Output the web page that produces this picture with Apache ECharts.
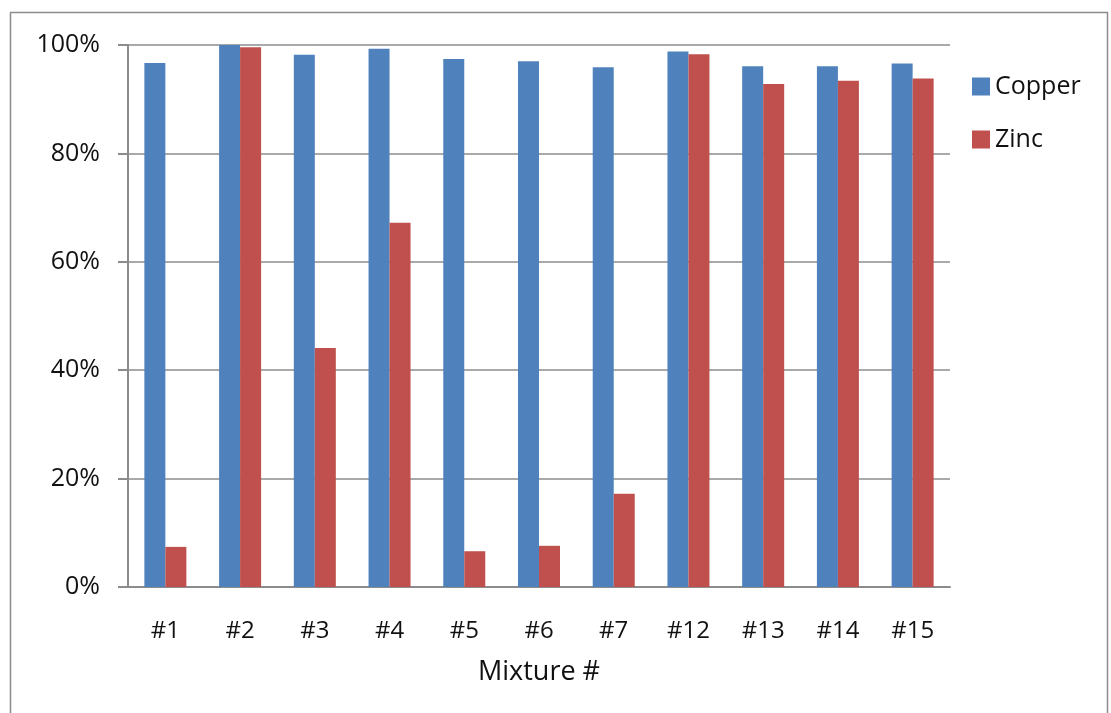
<!DOCTYPE html>
<html>
<head>
<meta charset="utf-8">
<script src="https://cdn.jsdelivr.net/npm/echarts@6/dist/echarts.min.js"></script>
<style>
  html, body { margin: 0; padding: 0; background: #fff; }
  #chart { width: 1111px; height: 713px; }
</style>
</head>
<body>
<div id="chart"></div>
<script>
// Recovery percentages per mixture
const categories = ['#1', '#2', '#3', '#4', '#5', '#6', '#7', '#12', '#13', '#14', '#15'];
const copper = [96.7, 100, 98.2, 99.3, 97.4, 97.0, 95.9, 98.8, 96.1, 96.1, 96.6];
const zinc = [7.4, 99.6, 44.1, 67.2, 6.6, 7.6, 17.2, 98.3, 92.8, 93.4, 93.8];
const yTicks = [0, 20, 40, 60, 80, 100];

const FONT = 'Open Sans';
const TEXT = '#111111';
const chart = echarts.init(document.getElementById('chart'));

chart.setOption({
  animation: false,
  backgroundColor: '#ffffff',
  textStyle: { fontFamily: FONT },
  graphic: [{
    type: 'rect',
    shape: { x: 10.5, y: 12.5, width: 1097, height: 720 },
    style: { fill: 'none', stroke: '#8c8c8c', lineWidth: 1.5 },
    silent: true
  }],
  grid: { left: 128, right: 161, top: 45, bottom: 126, containLabel: false },
  legend: {
    orient: 'vertical',
    left: 967,
    top: 69,
    itemWidth: 18,
    itemHeight: 18,
    itemGap: 28,
    icon: 'rect',
    textStyle: { fontFamily: FONT, fontSize: 25, color: TEXT },
    data: ['Copper', 'Zinc']
  },
  xAxis: {
    type: 'category',
    data: categories,
    name: 'Mixture #',
    nameLocation: 'middle',
    nameGap: 72,
    nameTextStyle: { fontFamily: FONT, fontSize: 27, color: TEXT },
    axisLine: { lineStyle: { color: '#8c8c8c', width: 2 } },
    axisTick: { show: false },
    axisLabel: { fontFamily: FONT, fontSize: 24, color: TEXT, margin: 32 }
  },
  yAxis: {
    type: 'value',
    min: 0,
    max: 100,
    interval: 20,
    axisLine: { show: true, lineStyle: { color: '#8c8c8c', width: 2 } },
    axisTick: { show: true, length: 10, lineStyle: { color: '#8c8c8c', width: 2 } },
    splitLine: { lineStyle: { color: '#8c8c8c', width: 1.5 } },
    axisLabel: {
      fontFamily: FONT, fontSize: 25, color: TEXT, margin: 28,
      formatter: v => yTicks.includes(v) ? v + '%' : ''
    }
  },
  series: [
    {
      name: 'Copper',
      type: 'bar',
      data: copper,
      barWidth: 21,
      barGap: '0%',
      itemStyle: { color: '#4f81bd' }
    },
    {
      name: 'Zinc',
      type: 'bar',
      data: zinc,
      barWidth: 21,
      barGap: '0%',
      itemStyle: { color: '#c0504d' }
    }
  ]
});
</script>
</body>
</html>
